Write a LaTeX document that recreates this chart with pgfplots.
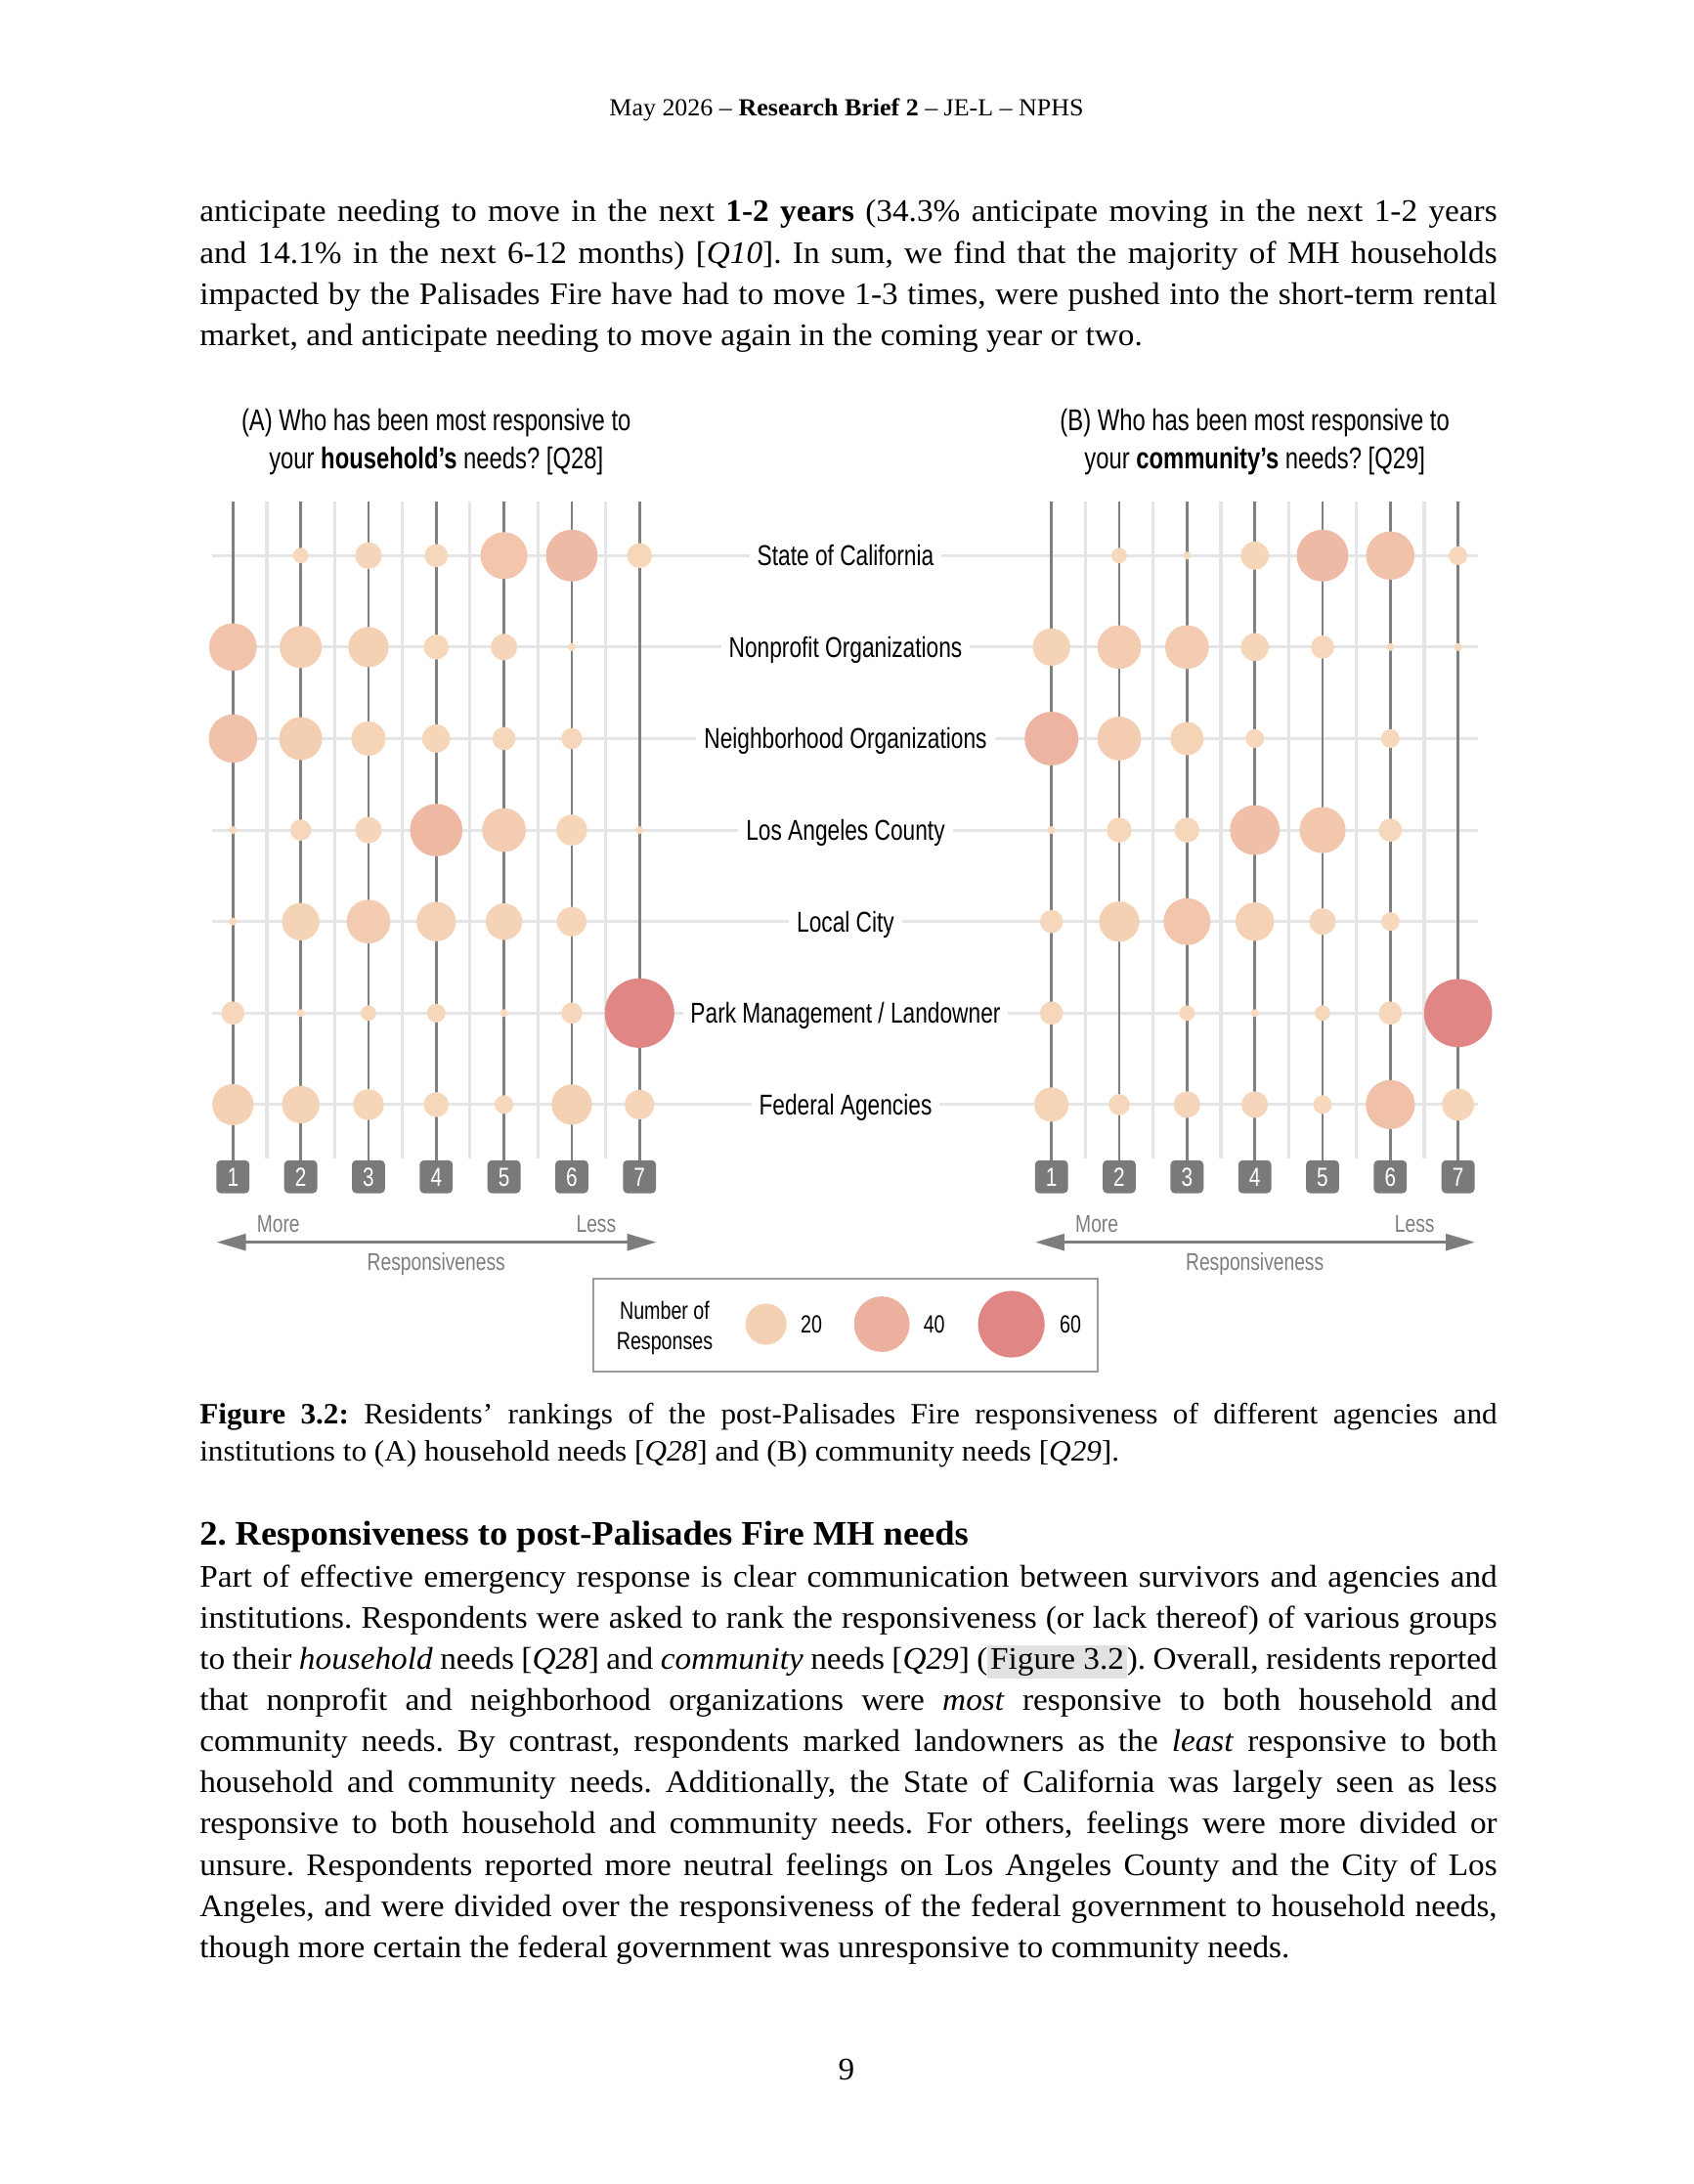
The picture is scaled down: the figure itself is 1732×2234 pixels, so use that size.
\documentclass[border=0pt]{standalone}
\usepackage{fontspec}
\setmainfont[FakeStretch=1.035]{Liberation Serif}
\newfontfamily\cf[FakeStretch=0.775]{Liberation Sans}
\usepackage{pgfplots}
\usepackage{pgfplotstable}
\pgfplotsset{compat=1.18}
\usetikzlibrary{arrows.meta}
\definecolor{stemc}{RGB}{128,128,128}
\definecolor{lgrid}{RGB}{229,229,229}
\definecolor{boxg}{RGB}{122,122,122}
\definecolor{txtg}{RGB}{125,125,125}
\definecolor{hl}{RGB}{226,226,226}
\definecolor{legbox}{RGB}{155,155,155}
\setlength{\fboxsep}{1pt}
\frenchspacing

% x = rank (1 = more responsive ... 7 = less), y = row (7 = State of California ... 1 = Federal Agencies), n = responses
\pgfplotstableread{
x y n
2 7 2
3 7 7
4 7 5
5 7 27
6 7 34
7 7 6
1 6 28
2 6 21
3 6 19
4 6 6
5 6 7
6 6 1
1 5 29
2 5 22
3 5 13
4 5 8
5 5 5
6 5 4
1 4 1
2 4 4
3 4 7
4 4 35
5 4 23
6 4 10
7 4 1
1 3 1
2 3 16
3 3 23
4 3 18
5 3 15
6 3 9
1 2 5
2 2 1
3 2 2
4 2 3
5 2 1
6 2 4
7 2 66
1 1 20
2 1 16
3 1 10
4 1 6
5 1 3
6 1 19
7 1 9
}\dataA

\pgfplotstableread{
x y n
2 7 2
3 7 1
4 7 8
5 7 34
6 7 29
7 7 3
1 6 16
2 6 23
3 6 23
4 6 8
5 6 5
6 6 1
7 6 1
1 5 37
2 5 23
3 5 12
4 5 3
6 5 3
1 4 1
2 4 6
3 4 6
4 4 31
5 4 26
6 4 5
1 3 5
2 3 19
3 3 27
4 3 17
5 3 7
6 3 3
1 2 5
3 2 2
4 2 1
5 2 2
6 2 5
7 2 63
1 1 13
2 1 4
3 1 7
4 1 7
5 1 3
6 1 30
7 1 11
}\dataB

\pgfplotstableread{
x y n
783.6 1354.5 20
902.1 1354.5 40
1034.6 1354.5 60
}\dataL

\pgfplotsset{
  colormap={bub}{rgb255=(247,217,189) rgb255=(245,209,180) rgb255=(236,176,158) rgb255=(224,134,133)},
  bubble/.style={scatter, only marks, mark=*, scatter src=explicit,
    scatter/use mapped color={draw=mapped color, fill=mapped color},
    visualization depends on={\thisrow{n} \as \nn},
    scatter/@pre marker code/.append style={/tikz/line width=0pt, /tikz/mark size={(6.85+7.83*sqrt(max(\nn-1,0)))*0.177335}}},
  panel/.style={hide axis, scale only axis, clip=false, anchor=south west,
    xmin=0.5, xmax=7.5, ymin=0, ymax=8, width=172.12pt, height=265.58pt,
    colormap name=bub, point meta min=0, point meta max=60},
}

\newcommand\lab{\cf\fontsize{10.4}{12.5}\selectfont}
\newcommand\ttl{\cf\fontsize{10.9}{12.5}\selectfont}
\newcommand\sml{\cf\fontsize{8.8}{10}\selectfont}
\newcommand\lgf{\cf\fontsize{9}{10}\selectfont}
\newcommand\bodyfont{\fontsize{11.4}{13}\selectfont}
\newcommand\capfont{\fontsize{10.7}{12}\selectfont}

\newcommand\vgrid{%
  \pgfplotsinvokeforeach{1.5,2.5,3.5,4.5,5.5,6.5}{\draw[lgrid,line width=1.1pt] (axis cs:##1,0.411) -- (axis cs:##1,7.594);}}
\newcommand\stems{%
  \pgfplotsinvokeforeach{1,...,7}{\draw[stemc,line width=0.9pt] (axis cs:##1,7.594) -- (axis cs:##1,0.25);}
  \pgfplotsinvokeforeach{1,...,7}{\node[fill=boxg, text=white, rounded corners=1.6pt, minimum width=12pt, minimum height=12pt, inner sep=0pt, text height=6.8pt, text depth=0pt, font=\cf\fontsize{9.5}{10}\selectfont] at (axis cs:##1,0.2115) {##1};}
  \draw[txtg, line width=1.2pt, {Triangle[length=10.6pt,width=5.9pt]}-{Triangle[length=10.6pt,width=5.9pt]}] (axis cs:0.76,-0.504) -- (axis cs:7.25,-0.504);
  \node[anchor=base, text=txtg, font=\sml, inner sep=0pt] at (axis cs:1.67,-0.391) {More};
  \node[anchor=base, text=txtg, font=\sml, inner sep=0pt] at (axis cs:6.36,-0.391) {Less};
  \node[anchor=base, text=txtg, font=\sml, inner sep=0pt] at (axis cs:4,-0.808) {Responsiveness};}

\newcommand\jl[2]{\node[anchor=base west, inner sep=0pt] at (203.7,#1) {\bodyfont\makebox[470.8pt][s]{#2}};}
\newcommand\lastl[2]{\node[anchor=base west, inner sep=0pt] at (203.7,#1) {\bodyfont #2};}

\begin{document}
\begin{tikzpicture}
\begin{scope}[x=0.35467pt,y=-0.35467pt]
\path[use as bounding box] (0,0) rectangle (1732,2234);
\node[anchor=base, inner sep=0pt, font=\fontsize{8.9}{11}\selectfont] at (866,119) {May 2026 – \textbf{Research Brief 2} – JE-L – NPHS};
\jl{227}{anticipate needing to move in the next \textbf{1-2 years} (34.3\% anticipate moving in the next 1-2 years}
\jl{269.3}{and 14.1\% in the next 6-12 months) [\textit{Q10}]. In sum, we find that the majority of MH households}
\jl{311.6}{impacted by the Palisades Fire have had to move 1-3 times, were pushed into the short-term rental}
\lastl{353.9}{market, and anticipate needing to move again in the coming year or two.}
\node[anchor=base west, inner sep=0pt] at (203.7,1456.4) {\capfont\makebox[470.8pt][s]{\textbf{Figure 3.2:} Residents’ rankings of the post-Palisades Fire responsiveness of different agencies and}};
\node[anchor=base west, inner sep=0pt] at (203.7,1494.8) {\capfont institutions to (A) household needs [\textit{Q28}] and (B) community needs [\textit{Q29}].};
\node[anchor=base west, inner sep=0pt] at (203.7,1580) {\fontsize{12.5}{14}\selectfont\textbf{2. Responsiveness to post-Palisades Fire MH needs}};
\jl{1623}{Part of effective emergency response is clear communication between survivors and agencies and}
\jl{1665.15}{institutions. Respondents were asked to rank the responsiveness (or lack thereof) of various groups}
\jl{1707.3}{to their \textit{household} needs [\textit{Q28}] and \textit{community} needs [\textit{Q29}] (\colorbox{hl}{Figure 3.2}). Overall, residents reported}
\jl{1749.45}{that nonprofit and neighborhood organizations were \textit{most} responsive to both household and}
\jl{1791.6}{community needs. By contrast, respondents marked landowners as the \textit{least} responsive to both}
\jl{1833.75}{household and community needs. Additionally, the State of California was largely seen as less}
\jl{1875.9}{responsive to both household and community needs. For others, feelings were more divided or}
\jl{1918.05}{unsure. Respondents reported more neutral feelings on Los Angeles County and the City of Los}
\jl{1960.2}{Angeles, and were divided over the responsiveness of the federal government to household needs,}
\lastl{2002.35}{though more certain the federal government was unresponsive to community needs.}
\node[anchor=base, inner sep=0pt] at (866,2127) {\bodyfont 9};
\end{scope}

% Panel A
\begin{axis}[panel, at={(72.223pt,-433.94pt)}]
\vgrid
\pgfplotsinvokeforeach{1,...,7}{\draw[lgrid,line width=1.1pt] (axis cs:0.688,#1) -- (axis cs:19.37,#1);}
\stems
\addplot[bubble] table[x=x,y=y,meta=n] {\dataA};
\node[anchor=base, font=\ttl, inner sep=0pt] at (axis cs:4,8.365) {(A) Who has been most responsive to};
\node[anchor=base, font=\ttl, inner sep=0pt] at (axis cs:4,7.953) {your \textbf{household’s} needs? [Q28]};
\node[anchor=base, fill=white, inner xsep=2.8pt, inner ysep=1.5pt, font=\lab] at (axis cs:10.04,6.888) {State of California};
\node[anchor=base, fill=white, inner xsep=2.8pt, inner ysep=1.5pt, font=\lab] at (axis cs:10.04,5.888) {Nonprofit Organizations};
\node[anchor=base, fill=white, inner xsep=2.8pt, inner ysep=1.5pt, font=\lab] at (axis cs:10.04,4.888) {Neighborhood Organizations};
\node[anchor=base, fill=white, inner xsep=2.8pt, inner ysep=1.5pt, font=\lab] at (axis cs:10.04,3.888) {Los Angeles County};
\node[anchor=base, fill=white, inner xsep=2.8pt, inner ysep=1.5pt, font=\lab] at (axis cs:10.04,2.888) {Local City};
\node[anchor=base, fill=white, inner xsep=2.8pt, inner ysep=1.5pt, font=\lab] at (axis cs:10.04,1.888) {Park Management / Landowner};
\node[anchor=base, fill=white, inner xsep=2.8pt, inner ysep=1.5pt, font=\lab] at (axis cs:10.04,0.888) {Federal Agencies};
\end{axis}

% Panel B
\begin{axis}[panel, at={(369.22pt,-433.94pt)}]
\vgrid
\stems
\addplot[bubble] table[x=x,y=y,meta=n] {\dataB};
\node[anchor=base, font=\ttl, inner sep=0pt] at (axis cs:4,8.365) {(B) Who has been most responsive to};
\node[anchor=base, font=\ttl, inner sep=0pt] at (axis cs:4,7.953) {your \textbf{community’s} needs? [Q29]};
\end{axis}

% Legend
\begin{axis}[at={(215.21pt,-463.74pt)}, anchor=north west, scale only axis, width=182.92pt, height=33.87pt,
  xmin=606.8, xmax=1122.5, ymin=1307.5, ymax=1403, y dir=reverse, clip=false,
  xtick=\empty, ytick=\empty, axis line style={legbox, line width=0.7pt},
  colormap name=bub, point meta min=0, point meta max=60]
\addplot[bubble] table[x=x,y=y,meta=n] {\dataL};
\node[anchor=base, font=\lgf, inner sep=0pt] at (axis cs:680,1349.4) {Number of};
\node[anchor=base, font=\lgf, inner sep=0pt] at (axis cs:680,1380.7) {Responses};
\node[anchor=base, font=\lgf, inner sep=0pt] at (axis cs:830,1363.6) {20};
\node[anchor=base, font=\lgf, inner sep=0pt] at (axis cs:955.7,1363.6) {40};
\node[anchor=base, font=\lgf, inner sep=0pt] at (axis cs:1095,1363.6) {60};
\end{axis}
\end{tikzpicture}
\end{document}
